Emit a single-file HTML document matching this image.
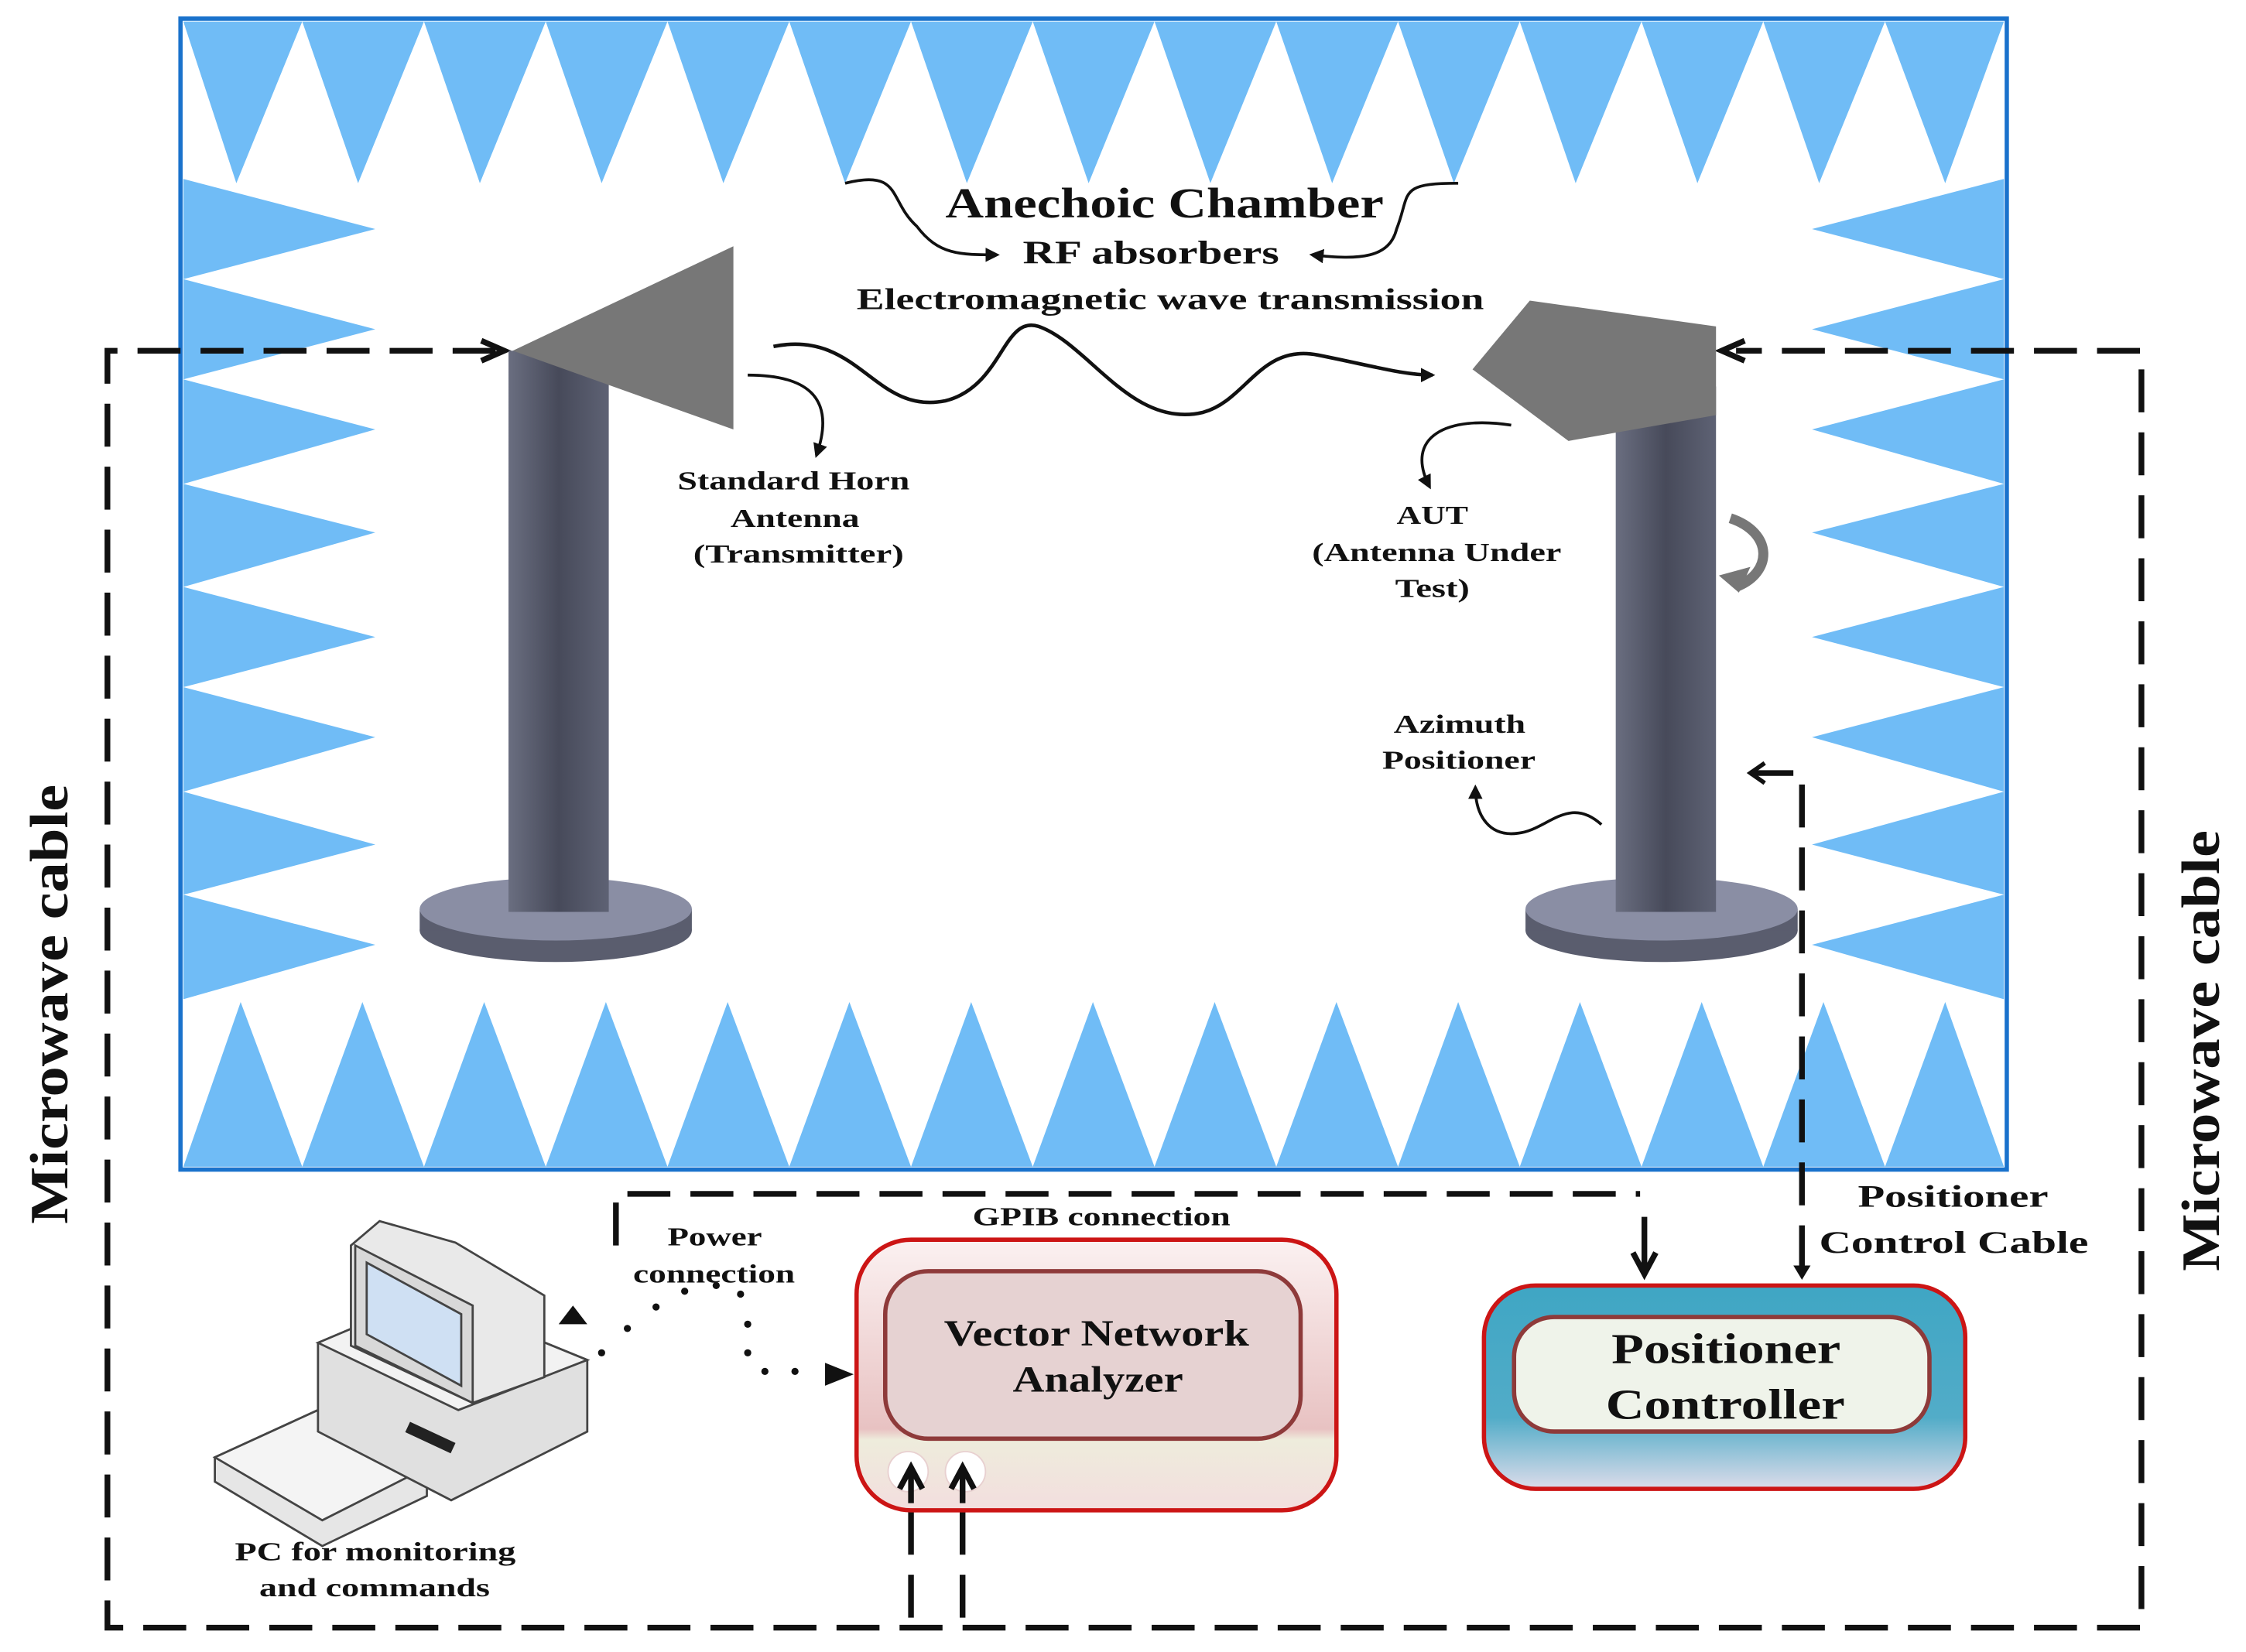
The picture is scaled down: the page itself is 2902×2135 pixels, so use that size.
<!DOCTYPE html>
<html><head><meta charset="utf-8"><style>
html,body{margin:0;padding:0;background:#fff;}
svg{display:block;}
text{font-family:"Liberation Serif",serif;font-weight:bold;fill:#111;}
</style></head><body>
<svg width="2902" height="2135" viewBox="0 0 1568 1154" preserveAspectRatio="none" xmlns="http://www.w3.org/2000/svg">
<defs>
<linearGradient id="pole" x1="0" x2="1" y1="0" y2="0">
<stop offset="0" stop-color="#6a6e80"/><stop offset="0.5" stop-color="#474a5a"/><stop offset="1" stop-color="#5e6274"/></linearGradient>
<linearGradient id="vna" x1="0" x2="0" y1="0" y2="1">
<stop offset="0" stop-color="#fbf1f1"/><stop offset="0.7" stop-color="#e8c2c2"/><stop offset="0.74" stop-color="#eeecdc"/><stop offset="1" stop-color="#f3dede"/></linearGradient>
<linearGradient id="pc" x1="0" x2="0" y1="0" y2="1">
<stop offset="0" stop-color="#3fa6c4"/><stop offset="0.65" stop-color="#52acc8"/><stop offset="1" stop-color="#dcdcea"/></linearGradient>
<marker id="ah" markerWidth="10" markerHeight="10" refX="8" refY="5" orient="auto" markerUnits="userSpaceOnUse"><path d="M0,0 L10,5 L0,10 Z" fill="#111"/></marker>
</defs>
<rect x="126" y="13" width="1275" height="804" fill="#fff" stroke="#1a72cc" stroke-width="3"/>
<g fill="#70bcf6">
<path d="M128,15 L165,128 L211,15 L250,128 L296,15 L335,128 L381,15 L420,128 L466,15 L505,128 L551,15 L590,128 L636,15 L675,128 L721,15 L760,128 L806,15 L845,128 L891,15 L930,128 L976,15 L1015,128 L1061,15 L1100,128 L1146,15 L1185,128 L1231,15 L1270,128 L1316,15 L1358,128 L1399,15 Z"/>
<path d="M128,815 L168,700 L211,815 L253,700 L296,815 L338,700 L381,815 L423,700 L466,815 L508,700 L551,815 L593,700 L636,815 L678,700 L721,815 L763,700 L806,815 L848,700 L891,815 L933,700 L976,815 L1018,700 L1061,815 L1103,700 L1146,815 L1188,700 L1231,815 L1273,700 L1316,815 L1358,700 L1399,815 Z"/>
<path d="M128,125 L262,160 L128,195 L262,230 L128,265 L262,300 L128,338 L262,372 L128,410 L262,445 L128,480 L262,515 L128,553 L262,590 L128,625 L262,660 L128,698 Z"/>
<path d="M1399,125 L1265,160 L1399,195 L1265,230 L1399,265 L1265,300 L1399,338 L1265,372 L1399,410 L1265,445 L1399,480 L1265,515 L1399,553 L1265,590 L1399,625 L1265,660 L1399,698 Z"/>
</g>
<g fill="none" stroke="#111" stroke-width="4" stroke-dasharray="30,14">
<path d="M346,245 L75,245 L75,1137 L1495,1137 L1495,245 L1212,245"/>
<path d="M636,1130 L636,1040"/>
<path d="M672,1130 L672,1040"/>
<path d="M430,870 L430,834 L1145,834"/>
<path d="M1222,540 L1258,540 L1258,885"/>
</g>
<path d="M336,238 L352,245 L336,252" fill="none" stroke="#111" stroke-width="4"/>
<path d="M1218,238 L1202,245 L1218,252" fill="none" stroke="#111" stroke-width="4"/>
<path d="M1232,533 L1222,540 L1232,547" fill="none" stroke="#111" stroke-width="3"/>
<path d="M1148,850 L1148,888 M1140,875 L1148,890 L1156,875" stroke="#111" stroke-width="4" fill="none"/>
<path d="M1252,884 L1258,894 L1264,884 Z" fill="#111"/>
<ellipse cx="388" cy="650" rx="95" ry="22" fill="#5a5d6e"/>
<rect x="293" y="635" width="190" height="15" fill="#5a5d6e"/>
<ellipse cx="388" cy="635" rx="95" ry="22" fill="#8a8ea4"/>
<rect x="355" y="245" width="70" height="392" fill="url(#pole)"/>
<polygon points="358,245 512,172 512,300" fill="#777"/>
<ellipse cx="1160" cy="650" rx="95" ry="22" fill="#5a5d6e"/>
<rect x="1065" y="635" width="190" height="15" fill="#5a5d6e"/>
<ellipse cx="1160" cy="635" rx="95" ry="22" fill="#8a8ea4"/>
<rect x="1128" y="270" width="70" height="367" fill="url(#pole)"/>
<polygon points="1028,258 1068,210 1198,228 1198,290 1095,308" fill="#777"/>
<path d="M1208,362 C1238,372 1238,400 1212,410" fill="none" stroke="#777" stroke-width="7"/>
<path d="M1200,402 L1214,414 L1222,396 Z" fill="#777"/>
<path d="M540,242 C600,230 610,290 660,280 C700,270 700,220 725,228 C760,240 790,300 840,288 C870,280 880,240 920,248 C960,256 980,262 1000,262" fill="none" stroke="#111" stroke-width="2.5" marker-end="url(#ah)"/>
<path d="M590,128 C630,118 620,140 640,158 C655,178 670,178 696,178" fill="none" stroke="#111" stroke-width="2" marker-end="url(#ah)"/>
<path d="M1018,128 C975,128 985,135 975,160 C970,180 950,182 916,178" fill="none" stroke="#111" stroke-width="2" marker-end="url(#ah)"/>
<path d="M522,262 C560,262 585,275 570,318" fill="none" stroke="#111" stroke-width="2" marker-end="url(#ah)"/>
<path d="M1055,297 C1010,290 980,305 998,340" fill="none" stroke="#111" stroke-width="2" marker-end="url(#ah)"/>
<path d="M1118,576 C1095,555 1080,580 1060,582 C1040,585 1030,570 1030,550" fill="none" stroke="#111" stroke-width="2" marker-end="url(#ah)"/>
<g lengthAdjust="spacingAndGlyphs">
<text x="660" y="152" font-size="30" textLength="306" lengthAdjust="spacingAndGlyphs">Anechoic Chamber</text>
<text x="714" y="184" font-size="23" textLength="179" lengthAdjust="spacingAndGlyphs">RF absorbers</text>
<text x="598" y="216" font-size="21" textLength="438" lengthAdjust="spacingAndGlyphs">Electromagnetic wave transmission</text>
<text x="473" y="342" font-size="18" textLength="162" lengthAdjust="spacingAndGlyphs">Standard Horn</text>
<text x="510" y="368" font-size="18" textLength="90" lengthAdjust="spacingAndGlyphs">Antenna</text>
<text x="484" y="393" font-size="18" textLength="147" lengthAdjust="spacingAndGlyphs">(Transmitter)</text>
<text x="975" y="366" font-size="18" textLength="50" lengthAdjust="spacingAndGlyphs">AUT</text>
<text x="916" y="392" font-size="18" textLength="174" lengthAdjust="spacingAndGlyphs">(Antenna Under</text>
<text x="974" y="417" font-size="18" textLength="52" lengthAdjust="spacingAndGlyphs">Test)</text>
<text x="973" y="512" font-size="18" textLength="92" lengthAdjust="spacingAndGlyphs">Azimuth</text>
<text x="965" y="537" font-size="18" textLength="107" lengthAdjust="spacingAndGlyphs">Positioner</text>
<text font-size="38" transform="translate(47,855) rotate(-90)" textLength="307" lengthAdjust="spacingAndGlyphs">Microwave cable</text>
<text font-size="38" transform="translate(1549,888) rotate(-90)" textLength="308" lengthAdjust="spacingAndGlyphs">Microwave cable</text>
<text x="679" y="856" font-size="18" textLength="180" lengthAdjust="spacingAndGlyphs">GPIB connection</text>
<text x="466" y="870" font-size="18" textLength="66" lengthAdjust="spacingAndGlyphs">Power</text>
<text x="442" y="896" font-size="18" textLength="113" lengthAdjust="spacingAndGlyphs">connection</text>
<text x="1297" y="843" font-size="22" textLength="133" lengthAdjust="spacingAndGlyphs">Positioner</text>
<text x="1270" y="875" font-size="22" textLength="188" lengthAdjust="spacingAndGlyphs">Control Cable</text>
<text x="164" y="1090" font-size="18" textLength="196" lengthAdjust="spacingAndGlyphs">PC for monitoring</text>
<text x="181" y="1115" font-size="18" textLength="161" lengthAdjust="spacingAndGlyphs">and commands</text>
</g>
<g fill="#111"><circle cx="420" cy="945" r="2.5"/><circle cx="438" cy="928" r="2.5"/><circle cx="458" cy="913" r="2.5"/><circle cx="478" cy="902" r="2.5"/><circle cx="500" cy="898" r="2.5"/><circle cx="517" cy="904" r="2.5"/><circle cx="522" cy="925" r="2.5"/><circle cx="522" cy="945" r="2.5"/><circle cx="534" cy="958" r="2.5"/><circle cx="555" cy="958" r="2.5"/></g>
<path d="M576,952 L596,960 L576,968 Z" fill="#111"/>
<path d="M390,925 L400,912 L410,925 Z" fill="#111"/>
<g stroke="#444" stroke-width="1.5">
<polygon points="150,1018 222,985 298,1025 298,1045 225,1080 150,1035" fill="#e6e6e6"/>
<polygon points="150,1018 222,985 298,1025 225,1062" fill="#f4f4f4"/>
<polygon points="222,938 300,905 410,950 410,1000 315,1048 222,1000" fill="#e0e0e0"/>
<polygon points="222,938 300,905 410,950 320,985" fill="#f2f2f2"/>
<polygon points="245,870 265,853 318,868 380,905 380,962 330,980 245,940" fill="#e9e9e9"/>
<polygon points="248,870 330,912 330,980 248,940" fill="#d8d8d8"/>
<polygon points="256,882 322,918 322,968 256,932" fill="#cfe0f3"/>
</g>
<rect x="283" y="1000" width="35" height="8" fill="#222" transform="rotate(25 300 1004)"/>
<rect x="598" y="866" width="335" height="189" rx="38" fill="url(#vna)" stroke="#cc1515" stroke-width="3"/>
<rect x="618" y="888" width="290" height="117" rx="30" fill="#e6d2d2" stroke="#8e3a3a" stroke-width="3"/>
<text x="659" y="940" font-size="26" textLength="213" lengthAdjust="spacingAndGlyphs">Vector Network</text>
<text x="707" y="972" font-size="26" textLength="119" lengthAdjust="spacingAndGlyphs">Analyzer</text>
<circle cx="634" cy="1028" r="14" fill="#fff" stroke="#e8d0d0"/>
<circle cx="674" cy="1028" r="14" fill="#fff" stroke="#e8d0d0"/>
<path d="M636,1050 L636,1028 M628,1040 L636,1025 L644,1040 M672,1050 L672,1028 M664,1040 L672,1025 L680,1040" stroke="#111" stroke-width="4" fill="none"/>
<rect x="1036" y="898" width="336" height="142" rx="36" fill="url(#pc)" stroke="#cc1515" stroke-width="3"/>
<rect x="1057" y="920" width="290" height="80" rx="28" fill="#eff3ea" stroke="#8e3a3a" stroke-width="3"/>
<text x="1125" y="952" font-size="30" textLength="160" lengthAdjust="spacingAndGlyphs">Positioner</text>
<text x="1121" y="991" font-size="30" textLength="167" lengthAdjust="spacingAndGlyphs">Controller</text>
</svg>
</body></html>
